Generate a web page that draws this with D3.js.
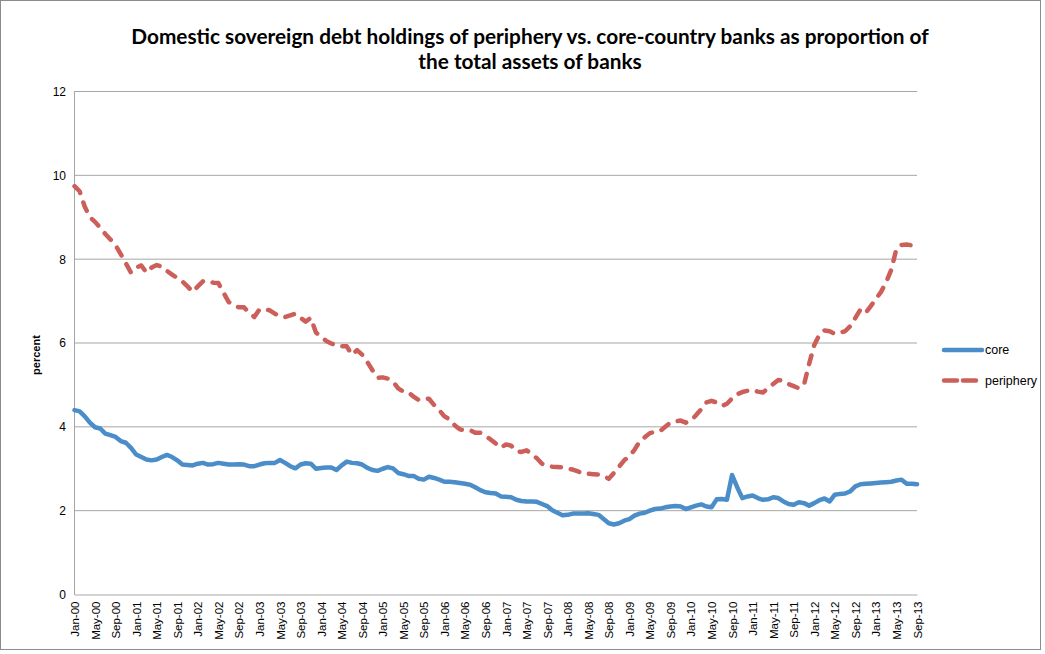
<!DOCTYPE html>
<html>
<head>
<meta charset="utf-8">
<script src="https://cdn.jsdelivr.net/npm/d3@7"></script>
<style>
  body { margin: 0; background: #fff; }
  svg { display: block; }
</style>
</head>
<body>
<svg id="chart"></svg>
<script>
// months Jan-00 .. Sep-13, ticks every 4 months
let monthNames = ["Jan","Feb","Mar","Apr","May","Jun","Jul","Aug","Sep","Oct","Nov","Dec"]
let months = []
for (let y = 0; y <= 13; y++) {
    for (let m = 0; m < 12; m++) {
        if (y === 13 && m > 8) break
        months.push(monthNames[m] + '-' + String(y).padStart(2, '0'))
    }
}
let tickLabels = months.filter((d, i) => i % 4 === 0)
let yTicks = [0, 2, 4, 6, 8, 10, 12]

let core = [
    4.40,4.37,4.25,4.10,3.99,3.96,3.84,3.80,3.76,3.66,
    3.62,3.50,3.34,3.28,3.22,3.20,3.22,3.28,3.33,3.28,
    3.20,3.10,3.09,3.08,3.12,3.14,3.10,3.11,3.14,3.12,
    3.10,3.10,3.11,3.10,3.06,3.06,3.10,3.13,3.14,3.14,
    3.21,3.14,3.06,3.01,3.10,3.13,3.12,3.00,3.02,3.03,
    3.03,2.97,3.08,3.17,3.14,3.13,3.10,3.02,2.97,2.95,
    3.00,3.04,3.01,2.90,2.87,2.83,2.83,2.76,2.74,2.81,
    2.78,2.74,2.69,2.69,2.68,2.66,2.64,2.62,2.56,2.49,
    2.44,2.42,2.41,2.34,2.33,2.32,2.26,2.23,2.22,2.22,
    2.21,2.16,2.11,2.01,1.95,1.89,1.90,1.93,1.93,1.93,
    1.94,1.92,1.90,1.80,1.70,1.67,1.70,1.76,1.80,1.88,
    1.93,1.95,2.00,2.04,2.05,2.08,2.10,2.11,2.10,2.04,
    2.08,2.12,2.15,2.10,2.08,2.27,2.28,2.26,2.85,2.56,
    2.30,2.34,2.36,2.30,2.26,2.27,2.32,2.30,2.22,2.16,
    2.14,2.20,2.18,2.12,2.18,2.25,2.29,2.22,2.38,2.40,
    2.41,2.46,2.58,2.63,2.64,2.65,2.66,2.67,2.68,2.69,
    2.72,2.74,2.64,2.64,2.63
]

let periphery = [
    9.74,9.62,9.25,9.00,8.89,8.75,8.60,8.47,8.33,8.12,
    7.90,7.68,7.80,7.85,7.68,7.80,7.86,7.82,7.72,7.63,
    7.55,7.47,7.35,7.22,7.35,7.47,7.48,7.44,7.43,7.20,
    6.98,6.90,6.85,6.85,6.72,6.62,6.80,6.80,6.78,6.70,
    6.64,6.62,6.66,6.70,6.60,6.51,6.60,6.25,6.15,6.05,
    5.99,5.93,5.92,5.92,5.72,5.83,5.72,5.55,5.35,5.17,
    5.18,5.15,5.08,4.92,4.84,4.82,4.72,4.64,4.66,4.67,
    4.52,4.40,4.25,4.18,4.04,3.94,3.92,3.92,3.86,3.86,
    3.78,3.70,3.60,3.50,3.58,3.55,3.42,3.40,3.44,3.35,
    3.25,3.12,3.08,3.05,3.04,3.03,3.00,2.98,2.94,2.88,
    2.88,2.87,2.86,2.83,2.76,2.90,3.05,3.20,3.30,3.45,
    3.65,3.75,3.85,3.88,3.90,4.00,4.10,4.13,4.15,4.10,
    4.15,4.28,4.42,4.58,4.62,4.58,4.50,4.55,4.68,4.78,
    4.83,4.86,4.88,4.84,4.82,4.92,5.02,5.12,5.10,5.02,
    4.97,4.92,5.00,5.50,5.95,6.20,6.30,6.28,6.22,6.25,
    6.28,6.40,6.60,6.80,6.72,6.88,7.05,7.22,7.45,7.75,
    8.25,8.34,8.35,8.33,8.32
]

let series = [
    { name: 'core', values: core, color: '#4a8dc8', dash: null },
    { name: 'periphery', values: periphery, color: '#cd5f5b', dash: '9,10' }
]

let width = 1045, height = 654
let svg = d3.select('#chart').attr('width', width).attr('height', height)

// outer frame
svg.append('rect')
    .attr('x', 0.5).attr('y', 0.5)
    .attr('width', 1040).attr('height', 649)
    .attr('fill', 'none').attr('stroke', '#8c8c8c')

let x = d3.scalePoint().domain(months).range([74.5, 917])
let y = d3.scaleLinear().domain([0, 12]).range([594.5, 91.5])

// gridlines
svg.append('g')
    .selectAll('line')
    .data(yTicks.filter(d => d > 0))
    .enter()
    .append('line')
    .attr('x1', 74).attr('x2', 917)
    .attr('y1', d => y(d)).attr('y2', d => y(d))
    .attr('stroke', '#a6a6a6').attr('stroke-width', 1)

// y axis
let yAxis = svg.append('g')
    .attr('transform', 'translate(74,0)')
    .call(d3.axisLeft(y).tickValues(yTicks).tickSize(0).tickPadding(8))
yAxis.select('.domain').attr('stroke', '#a6a6a6')
yAxis.selectAll('text')
    .attr('font-family', 'Liberation Sans, Arial, sans-serif')
    .attr('font-size', '12px')
    .attr('fill', '#000')

// x axis
let xAxis = svg.append('g')
    .attr('transform', 'translate(0,' + y(0) + ')')
    .call(d3.axisBottom(x).tickValues(tickLabels).tickSize(0))
xAxis.select('.domain').attr('stroke', '#a6a6a6')
xAxis.selectAll('text')
    .attr('font-family', 'Liberation Sans, Arial, sans-serif')
    .attr('font-size', '11.5px')
    .attr('fill', '#000')
    .attr('transform', 'rotate(-90)')
    .attr('text-anchor', 'end')
    .attr('x', -7)
    .attr('y', 0)
    .attr('dy', '0.35em')

// lines
let line = d3.line()
    .x((d, i) => x(months[i]))
    .y(d => y(d))

series.forEach(s => {
    svg.append('path')
        .datum(s.values)
        .attr('d', line)
        .attr('fill', 'none')
        .attr('stroke', s.color)
        .attr('stroke-width', 4.5)
        .attr('stroke-linejoin', 'round')
        .attr('stroke-linecap', 'round')
        .attr('stroke-dasharray', s.dash)
})

// y label
svg.append('text')
    .attr('transform', 'translate(40,355) rotate(-90)')
    .attr('text-anchor', 'middle')
    .attr('font-family', 'Liberation Sans, Arial, sans-serif')
    .attr('font-size', '11px')
    .attr('font-weight', 'bold')
    .text('percent')

// legend
let legend = svg.append('g')
    .selectAll('g')
    .data(series)
    .enter()
    .append('g')
    .attr('transform', (d, i) => 'translate(944,' + (350 + i * 30.5) + ')')
legend.append('line')
    .attr('x1', 0).attr('x2', 38)
    .attr('stroke', d => d.color)
    .attr('stroke-width', 4.5)
    .attr('stroke-linecap', 'round')
    .attr('stroke-dasharray', d => d.dash ? '13,6' : null)
legend.append('text')
    .attr('x', 41)
    .attr('dy', '0.35em')
    .attr('font-family', 'Liberation Sans, Arial, sans-serif')
    .attr('font-size', '12.5px')
    .text(d => d.name)

// title
let titleLines = [
    'Domestic sovereign debt holdings of periphery vs. core-country banks as proportion of',
    'the total assets of banks'
]
let title = svg.append('g')
title.selectAll('text')
    .data(titleLines)
    .enter()
    .append('text')
    .attr('x', 530)
    .attr('y', (d, i) => 44 + i * 25)
    .attr('text-anchor', 'middle')
    .attr('font-family', 'Lato, Open Sans, sans-serif')
    .attr('font-weight', 'bold')
    .attr('font-size', '20px')
    .text(d => d)
// fit first line to the width seen in the original
let w0 = title.select('text').node().getComputedTextLength()
title.selectAll('text').attr('font-size', (20 * 798 / w0) + 'px')
</script>
</body>
</html>
